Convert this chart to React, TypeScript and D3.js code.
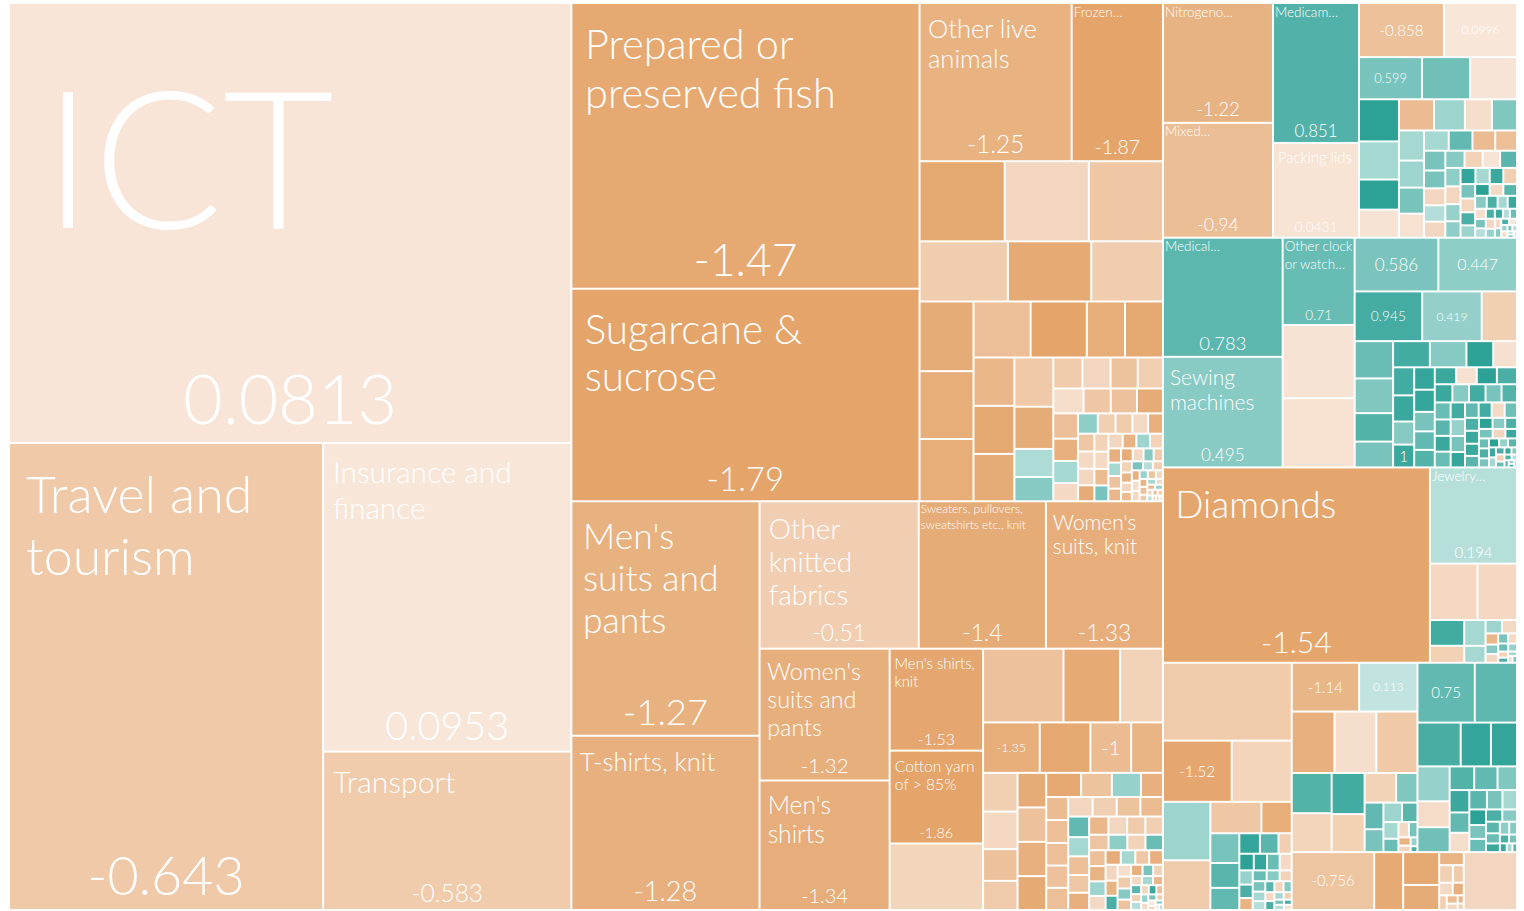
import React, { useMemo } from "react";
import * as d3 from "d3";

// [label ("" = value only, null = no label), trade size, complexity]
type Item = [string | null, number, number];
// [trade size, complexity]
type Small = [number, number];

const services: Item[] = [
  ["ICT", 2467, 0.0813],
  ["Travel and|tourism", 1463, -0.643],
  ["Insurance and|finance", 764, 0.0953],
  ["Transport", 392, -0.583],
];

const food: Item[] = [
  ["Prepared or|preserved fish", 992, -1.47],
  ["Sugarcane &|sucrose", 738, -1.79],
  ["Other live|animals", 240, -1.25],
  ["Frozen…", 144, -1.87],
  [null, 68, -1.5], [null, 67.2, -0.3], [null, 59.2, -0.7],
  [null, 53, -0.55], [null, 50, -1.45], [null, 43, -0.55],
  [null, 37.5, -1.4], [null, 36.5, -1.35], [null, 33.5, -1.35],
  [null, 31.9, -0.9], [null, 31.4, -1.6], [null, 21.3, -1.35], [null, 21.2, -1.5],
  [null, 19.7, -1.1], [null, 19.6, -1.5], [null, 19.3, -1.4],
  [null, 19.1, -0.65], [null, 16.4, -1.4], [null, 10.9, 0.25], [null, 9.4, 0.5],
  [null, 9, -0.6], [null, 8.7, -0.3], [null, 8.4, -0.8], [null, 7.8, -0.5],
  [null, 7.5, -0.1], [null, 6.75, -0.7], [null, 6.5, -0.85], [null, 6.45, -1.4],
  [null, 6.25, -0.9], [null, 5.5, -1.3], [null, 5.45, 0.3], [null, 4.5, -0.2],
];
const foodSmall: Small[] = [
  [4.0, 0.45], [3.6, -0.5], [3.4, -0.6], [3.2, -0.2], [3.0, -1.3], [2.9, -0.7], [2.8, -0.2], [2.7, -0.3],
  [2.6, -1.4], [2.5, -0.4], [2.4, -0.2], [2.3, -1.0], [2.2, 0.6], [2.1, -0.3], [2.0, -1.2], [2.0, 0.35],
  [1.9, -0.4], [1.8, -1.3], [1.7, 0.3], [1.6, -0.8], [1.6, -1.1], [1.5, -1.4], [1.4, -0.2], [1.3, 0.5],
  [1.2, -0.6], [1.2, -0.4], [1.1, -1.2], [1.0, -0.3], [1.0, -1.0], [1.0, 0.6], [0.9, 0.2], [0.9, -0.5],
  [0.8, -1.3], [0.8, -0.1], [0.8, -0.2], [0.7, 0.4], [0.7, -0.8], [0.6, -0.3], [0.6, -1.2], [0.6, -0.9],
  [0.5, -0.6], [0.5, 0.3], [0.4, -0.2], [0.4, -1.1], [0.4, 0.4], [0.3, -0.4], [0.3, 0.2], [0.3, -0.9],
  [0.3, -0.6], [0.2, -0.3], [0.2, -0.5], [0.2, 0.1],
];

const textiles: Item[] = [
  ["Men's|suits and|pants", 440, -1.27],
  ["T-shirts, knit", 327, -1.28],
  ["Other|knitted|fabrics", 234, -0.51],
  ["Sweaters, pullovers,|sweatshirts etc., knit", 187, -1.4],
  ["Women's|suits, knit", 172, -1.33],
  ["Women's|suits and|pants", 171, -1.32],
  ["Men's|shirts", 168, -1.34],
  ["Men's shirts,|knit", 95, -1.53],
  ["Cotton yarn|of > 85%", 86.5, -1.86],
  [null, 62, -0.35], [null, 59.1, -0.85], [null, 41.6, -1.45], [null, 31.5, -0.4],
  ["", 28.5, -1.35], [null, 25.5, -1.5], ["", 20.5, -1.0], [null, 16, -1.2],
  [null, 13.3, -0.5], [null, 12.9, -0.25], [null, 10.9, -0.85], [null, 10.0, -0.6],
  [null, 9.9, -1.4], [null, 9.85, -0.85], [null, 9.8, -1.3], [null, 9.7, -1.45],
  [null, 8.4, -1.5], [null, 7.4, -0.8], [null, 7.0, 0.4], [null, 5.3, -1.3],
  [null, 5.05, -1.0], [null, 5.02, -0.9], [null, 4.95, -0.9], [null, 4.9, -0.85], [null, 4.85, -0.9],
];
const textilesSmall: Small[] = [
  [4.75, -0.3], [4.7, -0.5], [4.6, -0.8], [4.4, -1.0], [4.3, 0.75], [4.0, 0.3], [3.9, -0.9], [3.7, -0.7],
  [3.6, -1.3], [3.5, -1.1], [3.4, -0.3], [3.3, -0.6], [3.2, -0.5], [3.0, -0.75], [2.9, 0.45], [2.8, -0.4],
  [2.7, 0.7], [2.6, -0.9], [2.5, -1.2], [2.4, 0.35], [2.3, -0.2], [2.2, -1.4], [2.1, 0.3], [2.0, -0.7],
  [2.0, -1.3], [1.9, -0.3], [1.8, -1.2], [1.7, 0.9], [1.6, -0.1], [1.6, -0.6], [1.5, 0.5], [1.4, -0.8],
  [1.3, -1.3], [1.2, 0.6], [1.1, -0.4], [1.0, -0.2], [1.0, 0.3], [0.9, -1.1], [0.9, 0.8], [0.8, -0.5],
  [0.8, 0.2], [0.7, -0.3], [0.7, 1.0], [0.6, -0.9], [0.6, 0.4], [0.5, -0.2], [0.5, 0.6], [0.4, -0.6],
  [0.4, 0.1], [0.3, -0.3], [0.3, 0.5], [0.2, -0.1], [0.2, 0.3],
];

const chemicals: Item[] = [
  ["Nitrogeno…", 131.5, -1.22],
  ["Mixed…", 126, -0.94],
  ["Medicam…", 120, 0.851],
  ["Packing lids", 81.3, 0.0431],
  ["", 45.9, -0.858], ["", 39.4, 0.0996], ["", 26.5, 0.599],
  [null, 20.2, 0.65], [null, 19.7, 0.05], [null, 16.8, 1.1], [null, 15.2, 0.3],
  [null, 12, 1.1], [null, 11.2, 0.02], [null, 10.9, -1.0], [null, 9.6, 0.35],
  [null, 8.4, -0.1], [null, 7.8, 0.55], [null, 7.5, 0.3], [null, 6.75, 0.35],
  [null, 6.5, 0.6], [null, 6.0, 0.0],
];
const chemicalsSmall: Small[] = [
  [5.0, 0.3], [4.8, 0.75], [4.6, -1.0], [4.4, -0.9], [4.2, 0.6], [3.8, 0.6], [3.6, -0.3], [3.5, 0.2],
  [3.4, -0.3], [3.3, 0.5], [3.1, -0.4], [3.0, 0.05], [2.9, 0.8], [2.8, 0.45], [2.7, -0.3], [2.6, 0.4],
  [2.5, 0.45], [2.4, 1.05], [2.3, 0.3], [2.2, 1.0], [2.2, -0.5], [2.1, 0.6], [2.0, -0.3], [1.9, 0.9],
  [1.8, 0.35], [1.7, 1.1], [1.6, -0.2], [1.6, 0.8], [1.5, 0.5], [1.4, 0.9], [1.3, 0.3], [1.2, 1.0],
  [1.1, -0.1], [1.0, 0.6], [1.0, 0.2], [0.9, 0.9], [0.9, -0.3], [0.8, 0.4], [0.8, 1.0], [0.7, 0.2],
  [0.7, 0.7], [0.6, -0.2], [0.6, 0.5], [0.5, 0.9], [0.5, 0.1], [0.4, 0.4], [0.4, -0.1], [0.3, 0.6],
  [0.3, 0.2], [0.2, 0.3], [0.2, 0.8], [0.2, -0.2],
];

const machinery: Item[] = [
  ["Medical…", 142.2, 0.783],
  ["Sewing|machines", 132, 0.495],
  ["Other clock|or watch…", 62.6, 0.71],
  [null, 52.6, 0.02], [null, 49.7, 0.0],
  ["", 44.8, 0.586], ["", 42.1, 0.447], ["", 33.5, 0.945], ["", 29.5, 0.419],
  [null, 17.5, -0.5], [null, 14.3, 0.7], [null, 13.3, 0.55], [null, 10.9, 0.85],
  [null, 9.9, 0.6], [null, 9.6, 0.95], [null, 9.55, 0.5], [null, 7.0, 1.1],
  [null, 6.2, -0.05], [null, 5.9, 0.95], [null, 5.5, 1.0], [null, 4.85, 0.5],
  ["", 4.8, 1], [null, 4.6, 1.05], [null, 4.55, 1.05],
];
const machinerySmall: Small[] = [
  [4.0, 0.6], [3.8, 0.75], [3.6, 0.85], [3.6, 1.0], [3.5, -0.05], [3.4, 1.1], [3.4, 0.9], [3.2, 1.0],
  [3.0, 0.5], [3.0, 0.95], [2.9, 0.6], [2.8, 0.85], [2.7, 0.7], [2.6, 0.8], [2.5, 1.0], [2.5, 0.7],
  [2.4, 0.95], [2.4, 0.4], [2.3, 0.6], [2.2, 1.05], [2.1, 0.75], [2.0, 0.95], [2.0, -0.2], [1.9, 0.65],
  [1.8, 0.9], [1.8, 1.0], [1.7, 1.0], [1.6, 0.8], [1.5, 1.1], [1.4, 0.5], [1.3, 0.9], [1.3, 0.6],
  [1.2, -0.3], [1.1, 1.0], [1.0, 0.7], [1.0, 0.9], [0.9, 0.6], [0.9, 1.1], [0.8, 0.4], [0.8, 0.8],
  [0.7, 1.0], [0.7, 0.3], [0.6, 0.9], [0.6, -0.5], [0.5, 0.7], [0.5, 1.0], [0.4, 0.5], [0.4, 0.9],
  [0.3, 0.2], [0.3, 0.8], [0.2, 0.6], [0.2, 1.0], [0.2, 0.3],
];

const stone: Item[] = [
  ["Diamonds", 520, -1.54],
  ["Jewelry…", 83.5, 0.194],
  [null, 26.8, -0.25], [null, 22.2, -0.25], [null, 8.8, 0.95], [null, 5.8, -0.45],
  [null, 5.5, 0.3], [null, 3.6, 0.3],
];
const stoneSmall: Small[] = [
  [2.2, 0.35], [2.0, -0.2], [1.4, -1.1], [1.2, 0.5], [1.1, -0.3], [1.0, 0.6], [0.9, -0.2],
  [0.8, 0.7], [0.7, 0.4], [0.6, -0.4], [0.5, 0.9], [0.4, 0.3], [0.3, -0.2], [0.3, 0.6],
];

const mixedA: Item[] = [
  [null, 100, -0.6], ["", 42, -1.52], [null, 36.6, -0.35], [null, 27.6, 0.35],
  [null, 23.5, -0.6], [null, 16, -0.7], [null, 9.5, -1.35], [null, 8.6, 0.6],
  [null, 7.2, 0.8], [null, 6.4, 0.75],
];
const mixedASmall: Small[] = [
  [4.2, 1.05], [3.8, 0.8], [2.7, -0.5], [2.4, 1.1], [2.2, 1.05], [2.1, 0.7], [2.0, -0.2], [1.9, 0.4],
  [1.8, 0.9], [1.6, -1.2], [1.5, 0.7], [1.4, 0.5], [1.3, -0.4], [1.3, 0.6], [1.2, 0.3], [1.1, 0.2],
  [1.0, 0.8], [1.0, -0.3], [0.9, 0.5], [0.8, -0.2], [0.8, 0.9], [0.7, 0.3], [0.6, -0.5], [0.5, 0.6],
  [0.5, 0.2], [0.4, 0.9], [0.4, -0.1],
];

const mixedB: Item[] = [
  ["", 32.8, -1.14], ["", 28.4, 0.113], [null, 26.2, -1.3], [null, 25.6, -0.1],
  [null, 25.2, -0.65], [null, 16, 0.85], [null, 15.5, -0.35], [null, 13.5, 0.95],
  [null, 12.5, -0.45], [null, 9.3, -0.4], [null, 6.3, 0.55],
];
const mixedBSmall: Small[] = [
  [5.0, 0.75], [4.3, 0.6], [3.6, 0.35], [3.0, 0.8], [2.5, 0.3], [2.0, 0.7], [1.6, -0.2],
  [1.3, 0.6], [1.0, -1.2], [0.8, -0.3], [0.6, 0.4], [0.4, 0.9],
];

const mixedC: Item[] = [
  ["", 34.2, 0.75], [null, 25.2, 0.78], [null, 18.9, 0.92], [null, 13.2, 1.05],
  [null, 11.4, 1.05], [null, 11.2, 0.4], [null, 8.3, -0.15], [null, 8.0, 0.65],
];
const mixedCSmall: Small[] = [
  [5.8, 0.85], [5.5, 0.75], [4.6, 0.55], [4.4, 1.0], [4.0, 0.75], [3.8, -0.1], [3.4, 0.8], [3.0, 0.6],
  [2.8, 0.3], [2.6, 1.1], [2.3, 0.6], [2.2, 0.7], [2.0, 0.9], [1.8, 0.5], [1.6, 0.8], [1.4, 0.7],
  [1.2, 1.0], [1.2, 0.45], [1.0, 0.5], [0.8, 0.9], [0.7, 0.6], [0.6, 1.0], [0.5, 0.3], [0.4, 0.8],
];

const mixedD: Item[] = [
  ["", 47.6, -0.756], [null, 16.7, -1.45], [null, 11.8, -1.5], [null, 9.0, -1.4],
];
const mixedDSmall: Small[] = [
  [3.2, -1.2], [2.4, -0.5], [1.9, -0.6], [1.7, -0.2], [1.4, -1.3], [1.1, -0.5], [0.9, -1.0],
  [0.7, -0.3], [0.5, -1.1], [0.4, -0.4],
];

const mixedE: Item[] = [[null, 30.7, -0.3]];

const sectors: { key: string; items: Item[]; small: Small[] }[] = [
  { key: "services", items: services, small: [] },
  { key: "food", items: food, small: foodSmall },
  { key: "textiles", items: textiles, small: textilesSmall },
  { key: "chemicals", items: chemicals, small: chemicalsSmall },
  { key: "machinery", items: machinery, small: machinerySmall },
  { key: "stone", items: stone, small: stoneSmall },
  { key: "mixedA", items: mixedA, small: mixedASmall },
  { key: "mixedB", items: mixedB, small: mixedBSmall },
  { key: "mixedC", items: mixedC, small: mixedCSmall },
  { key: "mixedD", items: mixedD, small: mixedDSmall },
  { key: "mixedE", items: mixedE, small: [] },
];

// ---- layout / style ----
const W = 1524;
const H = 911;
const X0 = 9;
const Y0 = 3;
const X1 = 1517;
const Y1 = 910;
const FONT = "Lato, 'Open Sans', sans-serif";
const nameOverrides: Record<string, number> = { ICT: 192 };

const fmt = d3
  .formatLocale({ decimal: ".", thousands: ",", grouping: [3], currency: ["", ""], minus: "-" })
  .format(".3~g");

const orangeScale = d3
  .scaleLinear<string>()
  .domain([-1.6, 0.1])
  .range(["#e4a46a", "#f8e6d9"])
  .clamp(true);
const tealScale = d3
  .scaleLinear<string>()
  .domain([0.1, 1.2])
  .range(["#c4e5e1", "#1d9b8f"])
  .clamp(true);
const color = (v: number) => (v <= 0.1 ? orangeScale(v) : tealScale(v));

let ctx: CanvasRenderingContext2D | null = null;
function textWidth(t: string, size: number) {
  if (!ctx) ctx = document.createElement("canvas").getContext("2d");
  if (!ctx) return t.length * size * 0.5;
  ctx.font = `300 ${size}px Lato`;
  return ctx.measureText(t).width;
}

type LeafDatum = { label: string | null; size: number; cx: number };

function buildLeaves() {
  const data: any = {
    children: sectors.map((s) => ({
      key: s.key,
      children: [
        ...s.items.map(([label, size, cx]) => ({ label, size, cx })),
        ...s.small.map(([size, cx]) => ({ label: null, size, cx })),
      ],
    })),
  };
  const root = d3
    .hierarchy<any>(data)
    .sum((d) => d.size || 0)
    .sort((a, b) => (b.value as number) - (a.value as number));
  d3.treemap<any>()
    .tile(d3.treemapSquarify.ratio(1))
    .size([X1 - X0, Y1 - Y0])
    .round(false)(root);
  return root.leaves() as d3.HierarchyRectangularNode<LeafDatum>[];
}

function labelsFor(n: d3.HierarchyRectangularNode<LeafDatum>, i: number) {
  const d = n.data;
  if (d.label === null) return null;
  const x0 = X0 + n.x0;
  const y0 = Y0 + n.y0;
  const x1 = X0 + n.x1;
  const y1 = Y0 + n.y1;
  const w = x1 - x0;
  const h = y1 - y0;
  const val = fmt(d.cx);
  const out: JSX.Element[] = [];
  if (d.label === "") {
    const fs = Math.min((0.52 * w) / textWidth(val, 1), 0.7 * h, 20);
    if (fs >= 7)
      out.push(
        <text key={`v${i}`} x={(x0 + x1) / 2} y={(y0 + y1) / 2 + 0.36 * fs} fontSize={fs} textAnchor="middle">
          {val}
        </text>
      );
    return out;
  }
  const lines = d.label.split("|");
  let fs: number;
  if (nameOverrides[d.label]) fs = nameOverrides[d.label];
  else if (d.label.endsWith("…")) fs = 13.5;
  else {
    const maxW = Math.max(...lines.map((l) => textWidth(l, 1)));
    const frac = w < 110 ? 0.86 : 0.72;
    fs = Math.max(12, Math.min((frac * w) / maxW, 0.19 * h));
  }
  const small = fs <= 14.5;
  const padX = d.label === "ICT" ? 34 : small ? 2 : 0.33 * fs;
  const firstBase = y0 + (d.label === "ICT" ? 1.17 : small ? 1.0 : 1.36) * fs;
  const lh = fs * (small ? 1.3 : 1.18);
  lines.forEach((l, k) => {
    out.push(
      <text key={`n${i}-${k}`} x={x0 + padX} y={firstBase + k * lh} fontSize={fs}>
        {l}
      </text>
    );
  });
  const vfs = Math.min((0.5 * w) / textWidth(val, 1), 0.155 * h);
  out.push(
    <text key={`v${i}`} x={(x0 + x1) / 2} y={y1 - 0.25 * vfs - 2} fontSize={vfs} textAnchor="middle">
      {val}
    </text>
  );
  return out;
}

export default function App() {
  const leaves = useMemo(() => buildLeaves(), []);
  return (
    <svg
      width={W}
      height={H}
      style={{ position: "absolute", left: 0, top: 0, background: "#fff" }}
      fontFamily={FONT}
    >
      <g>
        {leaves.map((n, i) => (
          <rect
            key={i}
            x={X0 + n.x0 + 1}
            y={Y0 + n.y0 + 1}
            width={Math.max(0, n.x1 - n.x0 - 2)}
            height={Math.max(0, n.y1 - n.y0 - 2)}
            fill={color(n.data.cx)}
          />
        ))}
      </g>
      <g fill="#fff" fontWeight={300}>
        {leaves.map((n, i) => labelsFor(n, i))}
      </g>
    </svg>
  );
}
